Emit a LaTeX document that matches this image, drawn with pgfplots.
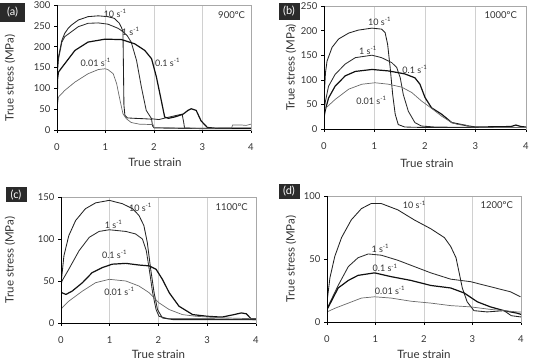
\documentclass[border=0pt]{standalone}
\usepackage{fontspec}
\setmainfont{Lato}
\usepackage{pgfplots}
\pgfplotsset{compat=1.18}
\definecolor{txt}{HTML}{333333}
\definecolor{framec}{HTML}{A8A8A8}
\definecolor{gridc}{HTML}{D0D0D0}
\definecolor{labbg}{HTML}{2A2A2A}
\definecolor{cA}{HTML}{222222}
\definecolor{cB}{HTML}{2E2E2E}
\definecolor{cC}{HTML}{111111}
\definecolor{cD}{HTML}{6A6A6A}
\tikzset{
  r10/.style={draw=cA, line width=0.85pt},
  r1/.style={draw=cB, line width=0.85pt},
  r01/.style={draw=cC, line width=1.2pt},
  r001/.style={draw=cD, line width=0.7pt},
  lab/.style={font=\fontsize{9}{10}\selectfont, text=txt, inner sep=0pt},
  tlab/.style={font=\fontsize{9.5}{10}\selectfont, text=txt, inner sep=0pt},
  plab/.style={fill=labbg, text=white, minimum width=21pt, minimum height=17pt, inner sep=0pt, font=\fontsize{11}{12}\selectfont},
}
\pgfplotsset{
  panel/.style={
    scale only axis, xmin=0, xmax=4, ymin=0,
    xtick={0,1,2,3,4}, tick pos=left, tick align=outside,
    major tick length=3pt, xmajorgrids,
    grid style={draw=gridc, line width=0.5pt},
    axis line style={draw=framec, line width=0.6pt},
    tick style={black, line width=0.5pt},
    ticklabel style={font=\fontsize{9.5}{10}\selectfont, text=txt},
    xticklabel style={yshift=-7pt},
    /pgf/number format/assume math mode=true,
    label style={font=\fontsize{11.5}{13}\selectfont, text=txt},
    xlabel={True strain}, ylabel={True stress (MPa)},
    every axis plot/.append style={no markers, line join=round},
  },
}
\begin{document}
\begin{tikzpicture}[x=1pt,y=1pt]
\path[use as bounding box] (0,0) rectangle (535,358);

% ---------------- (a) 900 C
\begin{axis}[panel, name=pa, at={(57pt,228pt)}, anchor=south west,
  width=194pt, height=125pt, ymax=300, ytick={0,50,100,150,200,250,300},
  ylabel style={at={(axis description cs:-0.242,0.416)}, anchor=center},
  xlabel style={at={(axis description cs:0.505,-0.226)}, anchor=north, inner sep=0pt}]
\addplot[r10] coordinates {(0,0) (0.01,150) (0.03,175) (0.1,215) (0.16,232) (0.23,244) (0.3,252) (0.44,264) (0.64,272) (0.85,274) (1.05,272) (1.18,268) (1.28,257) (1.33,246) (1.36,236) (1.37,150) (1.38,60) (1.40,35) (1.45,29) (1.6,28) (1.8,27) (1.95,26) (1.97,10) (2.0,5) (2.5,4) (3,4) (3.5,4) (4,4)};
\addplot[r1] coordinates {(0,0) (0.01,140) (0.03,170) (0.1,211) (0.16,224) (0.3,236) (0.44,248) (0.64,256) (0.85,257) (1.05,254) (1.26,244) (1.36,236) (1.45,226) (1.53,211) (1.64,167) (1.74,103) (1.84,47) (1.95,27) (2.1,25) (2.2,28) (2.35,32) (2.5,36) (2.58,38) (2.61,20) (2.63,5) (3,3) (4,3)};
\addplot[r01] coordinates {(0,0) (0.01,120) (0.03,139) (0.16,159) (0.37,191) (0.64,211) (0.99,218) (1.33,217) (1.6,207) (1.81,191) (1.95,171) (2.05,127) (2.15,71) (2.22,31) (2.3,28) (2.45,32) (2.6,38) (2.7,47) (2.77,51) (2.87,47) (2.97,22) (3.1,6) (3.3,4) (3.6,4) (4,4)};
\addplot[r001] coordinates {(0,0) (0.01,60) (0.03,79) (0.16,95) (0.37,115) (0.64,135) (0.85,145) (0.99,147) (1.05,145) (1.16,135) (1.23,111) (1.3,71) (1.36,39) (1.43,27) (1.53,18) (1.7,14) (1.98,13) (2.0,6) (2.5,5) (3.0,4) (3.6,5) (3.62,12) (3.8,12) (3.9,11) (4,14)};
\node[lab] at (axis cs:1.2,280) {10 s\textsuperscript{-1}};
\node[lab] at (axis cs:1.52,237) {1 s\textsuperscript{-1}};
\node[lab] at (axis cs:2.28,163) {0.1 s\textsuperscript{-1}};
\node[lab] at (axis cs:0.8,163) {0.01 s\textsuperscript{-1}};
\node[tlab] at (axis cs:3.6,276) {900ºC};
\end{axis}
\draw[black, line width=0.6pt] (pa.north west) -- (pa.south west) -- (pa.south east);

% ---------------- (b) 1000 C
\begin{axis}[panel, name=pb, at={(324pt,229pt)}, anchor=south west,
  width=202pt, height=123pt, ymax=250, ytick={0,50,100,150,200,250},
  ylabel style={at={(axis description cs:-0.163,0.5)}, anchor=center},
  xlabel style={at={(axis description cs:0.51,-0.246)}, anchor=north, inner sep=0pt}]
\addplot[r10] coordinates {(0,25) (0.01,80) (0.03,115) (0.06,138) (0.16,166) (0.29,183) (0.49,195) (0.68,201) (0.95,205) (1.14,203) (1.21,196) (1.26,172) (1.31,125) (1.36,70) (1.41,30) (1.47,9) (1.6,4) (2,3) (3,3) (4,3)};
\addplot[r1] coordinates {(0,30) (0.01,45) (0.03,57) (0.09,87) (0.22,111) (0.42,132) (0.62,145) (0.95,150) (1.14,145) (1.34,135) (1.44,125) (1.51,104) (1.57,70) (1.67,36) (1.8,13) (1.93,6) (2.2,4) (3,3) (4,3)};
\addplot[r01] coordinates {(0,20) (0.01,30) (0.03,40) (0.09,63) (0.22,87) (0.42,108) (0.62,117) (0.95,121) (1.28,118) (1.6,112) (1.8,104) (1.9,91) (2.0,64) (2.13,43) (2.33,30) (2.53,13) (2.72,9) (2.86,6) (3.0,4) (3.7,5) (3.8,8) (3.9,5) (4,4)};
\addplot[r001] coordinates {(0,38) (0.04,43) (0.22,60) (0.49,81) (0.75,91) (1.01,94) (1.28,91) (1.54,85) (1.74,74) (1.93,57) (2.13,42) (2.33,26) (2.53,13) (2.66,9) (2.8,8) (2.92,4) (3.5,3) (4,3)};
\node[lab] at (axis cs:1.1,219) {10 s\textsuperscript{-1}};
\node[lab] at (axis cs:0.87,160) {1 s\textsuperscript{-1}};
\node[lab] at (axis cs:1.8,121) {0.1 s\textsuperscript{-1}};
\node[lab] at (axis cs:0.94,58) {0.01 s\textsuperscript{-1}};
\node[tlab] at (axis cs:3.5,232) {1000ºC};
\end{axis}
\draw[black, line width=0.6pt] (pb.north west) -- (pb.south west) -- (pb.south east);

% ---------------- (c) 1100 C
\begin{axis}[panel, name=pc, at={(61pt,35pt)}, anchor=south west,
  width=195pt, height=126pt, ymax=150, ytick={0,50,100,150},
  ylabel style={at={(axis description cs:-0.262,0.5)}, anchor=center},
  xlabel style={at={(axis description cs:0.5,-0.214)}, anchor=north, inner sep=0pt}]
\addplot[r10] coordinates {(0,45) (0.01,52) (0.06,80) (0.16,104) (0.3,122) (0.5,136) (0.71,143) (0.99,146) (1.26,142) (1.47,136) (1.6,128) (1.7,116) (1.77,96) (1.84,64) (1.91,36) (1.98,16) (2.08,6) (2.3,4) (3,4) (4,4)};
\addplot[r1] coordinates {(0,45) (0.02,50) (0.16,64) (0.37,86) (0.58,102) (0.78,109) (0.99,111) (1.33,109) (1.53,106) (1.67,100) (1.75,86) (1.81,64) (1.88,36) (1.95,16) (2.01,8) (2.2,5) (3,5) (4,4)};
\addplot[r01] coordinates {(0,37) (0.02,36) (0.1,34) (0.23,38) (0.44,48) (0.64,60) (0.85,66) (1.05,70) (1.33,71) (1.6,69) (1.81,68) (1.95,64) (2.08,52) (2.22,36) (2.42,20) (2.7,10) (3.0,8) (3.3,7) (3.55,10) (3.7,12) (3.8,11) (3.9,5) (4,5)};
\addplot[r001] coordinates {(0,15) (0.02,18) (0.16,26) (0.44,38) (0.71,48) (0.99,52) (1.33,50) (1.6,44) (1.81,36) (2.01,24) (2.22,16) (2.49,10) (2.77,8) (3.04,7) (3.4,6) (4,5)};
\node[lab] at (axis cs:1.63,138) {10 s\textsuperscript{-1}};
\node[lab] at (axis cs:1.08,117) {1 s\textsuperscript{-1}};
\node[lab] at (axis cs:1.1,82) {0.1 s\textsuperscript{-1}};
\node[lab] at (axis cs:1.2,38) {0.01 s\textsuperscript{-1}};
\node[tlab] at (axis cs:3.5,138) {1100ºC};
\end{axis}
\draw[black, line width=0.6pt] (pc.north west) -- (pc.south west) -- (pc.south east);

% ---------------- (d) 1200 C
\begin{axis}[panel, name=pd, at={(327pt,36pt)}, anchor=south west,
  width=194pt, height=126pt, ymax=100, ytick={0,50,100},
  ylabel style={at={(axis description cs:-0.186,0.5)}, anchor=center},
  xlabel style={at={(axis description cs:0.5,-0.219)}, anchor=north, inner sep=0pt}]
\addplot[r10] coordinates {(0,15) (0.01,19) (0.06,35) (0.16,52) (0.3,67) (0.5,81) (0.71,90) (0.91,94) (1.12,94) (1.46,89) (1.8,81) (2.14,74) (2.42,67) (2.55,60) (2.66,51) (2.72,40) (2.79,27) (2.89,16) (3.03,9) (3.3,8) (3.65,9) (3.8,5) (4,4)};
\addplot[r1] coordinates {(0,10) (0.03,13) (0.23,29) (0.44,44) (0.64,51) (0.85,54) (1.12,53) (1.46,49) (1.8,44) (2.14,39) (2.55,34) (2.96,32) (3.37,28) (3.78,24) (3.99,20)};
\addplot[r01] coordinates {(0,10) (0.03,12) (0.23,27) (0.44,33) (0.64,37) (0.98,39) (1.32,36) (1.73,33) (2.14,29) (2.55,27) (2.83,23) (3.1,16) (3.37,12) (3.65,9) (3.92,7) (4,6)};
\addplot[r001] coordinates {(0,8) (0.17,11) (0.44,15) (0.71,19) (0.98,20) (1.32,19) (1.73,16.5) (2.14,15) (2.55,13) (2.96,12) (3.37,10) (3.92,8) (4,8)};
\node[lab] at (axis cs:1.8,93) {10 s\textsuperscript{-1}};
\node[lab] at (axis cs:1.1,58.5) {1 s\textsuperscript{-1}};
\node[lab] at (axis cs:1.2,43) {0.1 s\textsuperscript{-1}};
\node[lab] at (axis cs:1.3,25) {0.01 s\textsuperscript{-1}};
\node[tlab] at (axis cs:3.5,93) {1200ºC};
\end{axis}
\draw[black, line width=0.6pt] (pd.north west) -- (pd.south west) -- (pd.south east);

% panel letters
\node[plab, minimum width=25pt, minimum height=19pt] at (12.5,345.5) {(a)};
\node[plab] at (289,346.5) {(b)};
\node[plab, minimum height=15pt] at (16,163) {(c)};
\node[plab, minimum height=15pt] at (289,166.5) {(d)};
\end{tikzpicture}
\end{document}
